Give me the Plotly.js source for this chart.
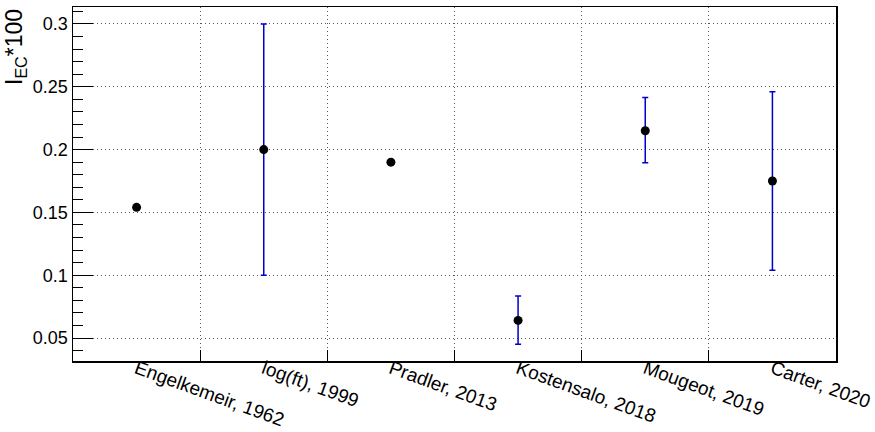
<!DOCTYPE html>
<html>
<head>
<meta charset="utf-8">
<script src="https://cdn.plot.ly/plotly-3.0.1.min.js"></script>
<style>html,body{margin:0;padding:0;background:#fff;}#chart{width:875px;height:432px;}</style>
</head>
<body>
<div id="chart"></div>
<script>
const categories = ["Engelkemeir, 1962", "log(ft), 1999", "Pradler, 2013", "Kostensalo, 2018", "Mougeot, 2019", "Carter, 2020"];
const values = [0.154, 0.2, 0.19, 0.064, 0.215, 0.175];
const errUp = [null, 0.1, null, 0.0195, 0.0265, 0.071];
const errDown = [null, 0.1, null, 0.019, 0.0255, 0.071];
const yTickVals = [0.05, 0.1, 0.15, 0.2, 0.25, 0.3];
const yTickText = ["0.05", "0.1", "0.15", "0.2", "0.25", "0.3"];

const font = "Liberation Sans, Arial, Helvetica, sans-serif";

const trace = {
  x: categories,
  y: values,
  type: "scatter",
  mode: "markers",
  marker: {color: "#000", size: 9, symbol: "circle"},
  error_y: {type: "data", symmetric: false, array: errUp, arrayminus: errDown,
            color: "#0000c8", thickness: 1.5, width: 3},
  showlegend: false,
  cliponaxis: false
};

const layout = {
  width: 875, height: 432,
  margin: {l: 73, r: 39, t: 7, b: 71},
  paper_bgcolor: "#fff", plot_bgcolor: "#fff",
  font: {family: font, size: 16, color: "#000"},
  xaxis: {
    type: "category",
    range: [-0.5, 5.5],
    tickson: "boundaries",
    ticks: "inside", ticklen: 11, tickwidth: 1, tickcolor: "#000",
    tickangle: 20,
    ticklabelstandoff: -12,
    tickfont: {family: font, size: 19, color: "#000"},
    showgrid: true, gridcolor: "#555", griddash: "1px,3px", gridwidth: 1,
    showline: true, linecolor: "#000", linewidth: 1.5, mirror: true,
    zeroline: false, fixedrange: true
  },
  yaxis: {
    range: [0.0317, 0.3135],
    tickvals: yTickVals, ticktext: yTickText,
    ticks: "inside", ticklen: 20, tickwidth: 1, tickcolor: "#000",
    tickfont: {family: font, size: 18, color: "#000"},
    minor: {dtick: 0.01, tick0: 0, ticks: "inside", ticklen: 10, tickcolor: "#000", showgrid: false},
    showgrid: true, gridcolor: "#555", griddash: "1px,3px", gridwidth: 1,
    showline: true, linecolor: "#000", linewidth: 1.5, mirror: true,
    zeroline: false, fixedrange: true
  },
  annotations: [{
    text: "I<sub>EC</sub>*100",
    xref: "paper", yref: "paper",
    x: -0.076, y: 1.0,
    xanchor: "center", yanchor: "top",
    textangle: -90, showarrow: false,
    font: {family: font, size: 23, color: "#000"}
  }]
};

Plotly.newPlot("chart", [trace], layout, {displayModeBar: false, staticPlot: true});
</script>
</body>
</html>
